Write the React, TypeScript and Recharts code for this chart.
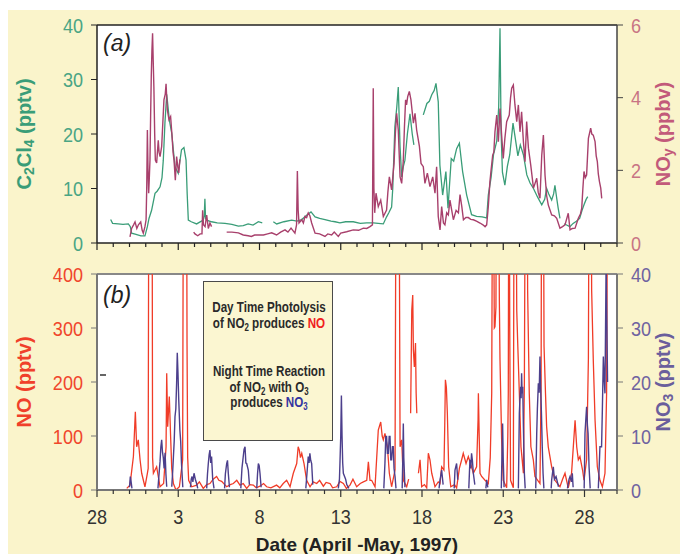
import { CartesianGrid, Line, LineChart, ReferenceLine, XAxis, YAxis } from "recharts";

const SANS = "'Liberation Sans', Arial, sans-serif";

// day offset from April 28, 1997 (0 = Apr 28, 5 = May 3, ...)
const dayTicks = Array.from({ length: 33 }, (_, i) => i);
const dayLabels = ["28", "3", "8", "13", "18", "23", "28"];

const c2cl4Ticks = [0, 10, 20, 30, 40];
const noyTicks = [0, 2, 4, 6];
const noTicks = [0, 100, 200, 300, 400];
const no3Ticks = [0, 10, 20, 30, 40];

type Pt = [number, number | null];

// panel (a): C2Cl4, pptv
const c2cl4: Pt[] = [
  [0.84, 4.3], [0.96, 3.6], [1.3, 3.5], [1.6, 3.4], [1.93, 3.5], [2.05, 3.0], [2.13, 1.8], [2.4, 1.6],
  [2.7, 1.3], [2.95, 1.3], [3.1, 3], [3.2, 4.5], [3.36, 6], [3.57, 9.1], [3.7, 9.5], [3.88, 10.3],
  [4.0, 12], [4.08, 15.2], [4.18, 22], [4.29, 27.3], [4.37, 25], [4.45, 22.6], [4.6, 20.1], [4.7, 17],
  [4.8, 14], [5.0, 12.8], [5.1, 15], [5.2, 17.1], [5.35, 17.5], [5.48, 15.2], [5.55, 9], [5.62, 4.2],
  [5.8, 3.9], [6.13, 3.5], [6.54, 4.2], [6.6, 5], [6.64, 8.1], [6.68, 4.5], [6.75, 4.2], [7.05, 3.9],
  [7.4, 3.7], [7.88, 3.6], [8.3, 3.4], [8.7, 3.1], [9.0, 3.2], [9.3, 3.5], [9.6, 3.3], [9.93, 3.9],
  [10.17, 3.7], [10.2, null], [10.85, 3.9], [11.06, 3.5], [11.5, 3.9], [11.98, 4.2], [12.3, 4.0],
  [12.6, 4.3], [12.9, 5.1], [13.17, 5.7], [13.42, 4.8], [13.7, 4.5], [14.03, 4.3], [14.4, 4.0],
  [14.65, 3.9], [14.95, 3.7], [15.3, 3.9], [15.77, 3.9], [16.2, 3.6], [16.6, 3.7], [17.0, 3.7],
  [17.3, 3.6], [17.62, 3.5], [17.82, 4.8], [17.95, 5.5], [18.13, 6.6], [18.2, 10], [18.33, 21.3],
  [18.45, 25], [18.54, 28.6], [18.65, 17.6], [18.75, 12.1], [18.85, 14], [18.95, 15.2], [19.1, 20],
  [19.26, 23.7], [19.4, 20], [19.5, 18], [19.6, null], [20.08, 23.5], [20.3, 25.6], [20.45, 26],
  [20.6, 27.2], [20.75, 28], [20.86, 29.3], [21.0, 25.9], [21.1, 14.3], [21.27, 8.8], [21.47, 13.1],
  [21.6, 6.4], [21.8, 15.5], [21.95, 15], [22.13, 17.3], [22.3, 18.3], [22.5, 13.1], [22.75, 8.8],
  [23.05, 5.2], [23.36, 4.9], [23.7, 4.8], [23.98, 4.6], [24.08, 8.8], [24.25, 12], [24.4, 16.2],
  [24.6, 18.7], [24.72, 25], [24.8, 39.4], [24.87, 20], [24.95, 13], [25.1, 10.6], [25.25, 14],
  [25.4, 16.2], [25.6, 22], [25.75, 19], [25.9, 16], [26.05, 18], [26.24, 16.2], [26.45, 12.5],
  [26.65, 11], [26.86, 10], [27.1, 8.5], [27.37, 7], [27.55, 8], [27.67, 10], [27.8, 9], [27.98, 7.9],
  [28.1, 9], [28.18, 10.6], [28.3, 8], [28.38, 6.4], [28.49, 4.5], [28.55, null], [28.75, 3.5],
  [28.9, 3.3], [29.1, 3], [29.3, 3.6], [29.5, 4], [29.7, 4.5], [29.85, 6], [29.97, 7], [30.1, 8],
  [30.2, 8.5],
];

// panel (a): NOy, ppbv
const noy: Pt[] = [
  [2.03, 0.17], [2.13, 0.4], [2.25, 0.5], [2.34, 0.58], [2.45, 0.4], [2.55, 0.5], [2.69, 0.58],
  [2.78, 0.35], [2.85, 0.27], [2.95, 0.45], [3.02, 0.64], [3.06, 1.5], [3.1, 3.11], [3.14, 2.0],
  [3.18, 1.37], [3.22, 1.8], [3.26, 2.28], [3.3, 3.5], [3.34, 4.58], [3.38, 5.3], [3.42, 5.77],
  [3.46, 5.0], [3.5, 4.3], [3.55, 3.0], [3.59, 2.28], [3.67, 2.2], [3.77, 2.83], [3.82, 2.5],
  [3.88, 2.38], [3.98, 2.66], [4.05, 3.3], [4.12, 3.94], [4.2, 4.1], [4.25, 4.38], [4.29, 4.0],
  [4.33, 3.66], [4.43, 3.39], [4.53, 3.48], [4.62, 2.93], [4.68, 2.5], [4.74, 2.28], [4.82, 1.73],
  [4.9, 2.38], [4.97, 2.1], [5.03, 1.93], [5.1, 2.3], [5.12, null], [5.95, 0.3], [6.03, 0.25],
  [6.2, 0.2], [6.35, 0.25], [6.46, 0.25], [6.5, 0.9], [6.55, 0.5], [6.65, 0.45], [6.75, 0.77],
  [6.85, 0.4], [6.95, 0.55], [7.05, 0.45], [7.1, null], [7.98, 0.3], [8.3, 0.3], [8.7, 0.28],
  [9.0, 0.22], [9.3, 0.2], [9.5, 0.18], [9.7, 0.22], [9.93, 0.22], [10.24, 0.22], [10.5, 0.25],
  [10.75, 0.28], [11.05, 0.22], [11.3, 0.3], [11.57, 0.36], [11.75, 0.3], [11.94, 0.41],
  [12.18, 0.27], [12.28, 0.5], [12.33, 1.98], [12.38, 0.9], [12.43, 0.55], [12.6, 0.64], [12.7, 0.55],
  [12.8, 0.73], [12.9, 0.7], [13.0, 0.83], [13.1, 0.75], [13.21, 0.55], [13.42, 0.27], [13.7, 0.25],
  [14.03, 0.18], [14.2, 0.25], [14.44, 0.22], [14.6, 0.3], [14.85, 0.18], [15.0, 0.27], [15.36, 0.31],
  [15.77, 0.36], [16.1, 0.35], [16.39, 0.41], [16.6, 0.4], [16.8, 0.45], [16.95, 0.5], [17.0, 4.26],
  [17.04, 1.5], [17.09, 0.83], [17.17, 1.37], [17.31, 1.0], [17.46, 1.18], [17.62, 0.73], [17.82, 0.91],
  [17.9, 1.4], [17.99, 1.82], [18.13, 1.46], [18.2, 1.8], [18.28, 2.19], [18.36, 3.0], [18.44, 3.57],
  [18.54, 3.11], [18.65, 1.82], [18.75, 1.64], [18.85, 2.28], [18.92, 3.2], [18.99, 3.94], [19.05, 3.8],
  [19.12, 4.03], [19.22, 4.17], [19.32, 3.94], [19.4, 3.6], [19.47, 3.3], [19.57, 3.57], [19.67, 3.11],
  [19.75, 2.9], [19.84, 2.66], [19.94, 2.19], [20.08, 2.1], [20.18, 1.64], [20.33, 1.92], [20.49, 1.55],
  [20.66, 1.82], [20.8, 1.37], [20.9, 2.1], [21.0, 0.73], [21.11, 0.36], [21.21, 1.0], [21.32, 0.55],
  [21.41, 0.5], [21.52, 0.83], [21.62, 0.77], [21.72, 1.18], [21.83, 0.9], [21.93, 0.64], [22.1, 0.9],
  [22.24, 0.83], [22.34, 1.33], [22.45, 1.0], [22.55, 0.64], [22.7, 0.7], [22.85, 0.7], [23.0, 0.65],
  [23.16, 0.64], [23.35, 0.6], [23.57, 0.55], [23.75, 0.5], [23.88, 0.45], [23.98, 0.5], [24.08, 1.0],
  [24.18, 1.69], [24.25, 2.0], [24.35, 2.42], [24.42, 2.5], [24.49, 3.06], [24.6, 3.52], [24.7, 2.79],
  [24.8, 3.7], [24.9, 2.97], [25.0, 2.33], [25.1, 2.88], [25.21, 3.34], [25.37, 3.52], [25.45, 4.0],
  [25.52, 4.26], [25.62, 4.35], [25.72, 3.8], [25.83, 3.34], [25.93, 3.8], [26.03, 3.06], [26.13, 3.61],
  [26.24, 2.79], [26.34, 2.24], [26.44, 3.34], [26.55, 2.61], [26.69, 2.15], [26.86, 1.51], [27.06, 1.78],
  [27.15, 1.4], [27.26, 1.23], [27.37, 2.42], [27.47, 2.97], [27.57, 1.87], [27.67, 1.3], [27.77, 1.05],
  [27.98, 0.77], [28.15, 0.75], [28.29, 0.68], [28.49, 0.41], [28.65, 0.45], [28.8, 0.5], [29.0, 0.82],
  [29.11, 0.36], [29.25, 0.4], [29.42, 0.41], [29.62, 0.68], [29.75, 0.8], [29.83, 0.96], [29.9, 1.5],
  [29.97, 1.97], [30.05, 1.8], [30.13, 1.87], [30.24, 2.88], [30.3, 3.0], [30.38, 3.16], [30.45, 3.0],
  [30.54, 2.97], [30.65, 2.79], [30.72, 2.4], [30.79, 2.24], [30.85, 1.9], [30.92, 1.69], [31.0, 1.51],
  [31.06, 1.23],
];

// panel (b): NO, pptv (values above 400 run off the top)
const no: Pt[] = [
  [1.83, 3], [2.03, 9], [2.24, 62], [2.36, 145], [2.44, 80], [2.54, 93], [2.65, 56], [2.75, 31],
  [2.95, 6], [3.1, 31], [3.15, 40], [3.2, 800], [3.38, 800], [3.42, 60], [3.47, 31], [3.67, 43],
  [3.88, 6], [4.1, 12], [4.25, 80], [4.29, 216], [4.35, 117], [4.45, 173], [4.53, 99], [4.6, 40],
  [4.7, 12], [4.86, 0], [5.07, 6], [5.27, 56], [5.33, 800], [5.5, 800], [5.54, 272], [5.58, 60],
  [5.64, 18], [5.83, 6], [6.13, 9], [6.3, 15], [6.54, 3], [6.75, 10], [6.95, 12], [7.15, 20],
  [7.36, 25], [7.5, 18], [7.67, 16], [7.98, 6], [8.2, 10], [8.39, 12], [8.6, 18], [8.8, 9], [9.0, 12],
  [9.21, 3], [9.4, 10], [9.62, 9], [9.8, 4], [10.03, 7], [10.25, 12], [10.44, 6], [10.7, 4], [11.05, 9],
  [11.25, 4], [11.46, 12], [11.67, 18], [11.88, 6], [12.08, 31], [12.29, 49], [12.38, 80], [12.45, 74],
  [12.52, 60], [12.6, 68], [12.74, 49], [12.9, 18], [13.11, 6], [13.3, 15], [13.52, 12], [13.7, 18],
  [13.93, 7], [14.1, 14], [14.34, 12], [14.5, 4], [14.75, 6], [14.95, 16], [15.16, 12], [15.35, 3],
  [15.57, 9], [15.75, 20], [15.98, 6], [16.2, 12], [16.39, 15], [16.6, 18], [16.7, 52], [16.8, 18],
  [16.9, 18], [17.11, 6], [17.31, 111], [17.46, 126], [17.55, 100], [17.62, 93], [17.72, 105],
  [17.87, 80], [17.99, 31], [18.13, 6], [18.34, 37], [18.42, 800], [18.57, 800], [18.65, 80],
  [18.75, 93], [18.85, 18], [19.06, 6], [19.18, 20], [19.22, null], [19.3, 142], [19.37, 333],
  [19.43, 361], [19.47, 259], [19.53, 228], [19.6, 272], [19.64, 179], [19.68, 142], [19.7, null],
  [19.78, 31], [19.88, 56], [19.98, 6], [20.15, 10], [20.29, 4], [20.39, 68], [20.49, 56], [20.6, 31],
  [20.8, 6], [21.0, 15], [21.11, 12], [21.21, 43], [21.35, 37], [21.4, 120], [21.44, 204], [21.5, 190],
  [21.56, 142], [21.64, 43], [21.77, 6], [22.0, 10], [22.13, 4], [22.3, 40], [22.44, 56], [22.54, 68],
  [22.71, 49], [22.85, 62], [23.05, 43], [23.16, 31], [23.36, 43], [23.45, 130], [23.47, 179],
  [23.52, 100], [23.57, 31], [23.67, 25], [23.88, 18], [24.08, 12], [24.2, 60], [24.29, 179],
  [24.36, 800], [24.45, 300], [24.49, 302], [24.55, 339], [24.6, 800], [24.68, 800], [24.76, 352],
  [24.8, 241], [24.9, 93], [25.0, 18], [25.21, 4], [25.28, 100], [25.31, 179], [25.35, 800],
  [25.4, 300], [25.45, 18], [25.62, 4], [25.68, 800], [25.75, 800], [25.83, 333], [25.89, 272],
  [25.99, 179], [26.09, 80], [26.24, 31], [26.3, 200], [26.38, 800], [26.46, 800], [26.5, 370],
  [26.6, 180], [26.7, 80], [26.85, 56], [26.95, 25], [27.26, 12], [27.33, 200], [27.37, 800],
  [27.45, 800], [27.51, 266], [27.6, 179], [27.67, 117], [27.77, 80], [27.98, 43], [28.18, 18],
  [28.49, 6], [28.65, 20], [28.8, 31], [29.0, 4], [29.2, 30], [29.42, 129], [29.52, 80], [29.62, 56],
  [29.72, 62], [29.88, 37], [29.97, 18], [30.13, 56], [30.24, 244], [30.3, 800], [30.38, 800],
  [30.44, 370], [30.54, 241], [30.65, 129], [30.79, 43], [30.95, 18], [31.1, 6], [31.26, 31],
  [31.36, 179], [31.45, 800], [31.55, 800],
];

// panel (b): NO3, pptv (night-time segments)
const no3: Pt[] = [
  [2.0, 0.5], [2.05, 2.5], [2.1, 1.5], [2.15, 0.3], [2.2, null],
  [3.75, 0.3], [3.82, 3], [3.88, 5.3], [3.93, 8], [3.98, 9.3], [4.03, 7], [4.08, 6], [4.13, 4],
  [4.19, 6.9], [4.24, 3], [4.29, 0.6], [4.35, null],
  [4.6, 0.6], [4.65, 3], [4.7, 6], [4.75, 9], [4.8, 13.6], [4.85, 15], [4.9, 19.8], [4.94, 25.4],
  [4.98, 22], [5.03, 16.7], [5.1, 11.1], [5.15, 9], [5.2, 4.9], [5.28, 0.5], [5.3, null],
  [5.75, 0.5], [5.8, 2], [5.85, 2.5], [5.9, 1.5], [5.97, 3.1], [6.05, 2], [6.13, 1.2], [6.2, 0.3], [6.25, null],
  [6.75, 0.3], [6.8, 3], [6.85, 4.9], [6.9, 6.5], [6.95, 7.4], [7.0, 5], [7.05, 6.2], [7.12, 2],
  [7.2, 0.3], [7.25, null],
  [7.85, 0.3], [7.9, 3], [7.98, 4.9], [8.03, 5.5], [8.08, 3.1], [8.15, 0.5], [8.2, null],
  [8.85, 0.3], [8.92, 4], [9.0, 6.2], [9.05, 7.5], [9.11, 8], [9.16, 5], [9.21, 4.9], [9.31, 3.7],
  [9.38, 1], [9.42, null],
  [9.83, 0.3], [9.88, 3], [9.93, 4.9], [9.98, 4.5], [10.03, 3.1], [10.1, 0.5], [10.15, null],
  [12.85, 0.3], [12.92, 3], [13.0, 6.2], [13.05, 5], [13.1, 6.8], [13.15, 5.5], [13.21, 4.9],
  [13.28, 1], [13.32, null],
  [14.85, 0.3], [14.92, 2], [14.95, 4.9], [15.0, 10], [15.04, 17.5], [15.08, 10], [15.12, 5],
  [15.16, 3.1], [15.3, 2], [15.37, 1], [15.5, 0.3], [15.55, null],
  [17.65, 0.3], [17.72, 5], [17.77, 9.9], [17.82, 9.9], [17.87, 6.8], [17.93, 6.8], [17.98, 9.9],
  [18.03, 9.9], [18.08, 5.6], [18.13, 5.6], [18.18, 8], [18.23, 8], [18.28, 4], [18.34, 2.5],
  [18.4, 0.3], [18.45, null],
  [18.78, 0.3], [18.82, 6], [18.85, 12.3], [18.88, 6], [18.95, 0.5], [19.0, null],
  [21.05, 0.3], [21.11, 1.85], [21.21, 3.7], [21.3, 1], [21.35, null],
  [21.98, 0.3], [22.03, 3.7], [22.13, 4.9], [22.2, 1.9], [22.25, null],
  [22.88, 0.3], [22.95, 5.6], [23.0, 4], [23.05, 6.8], [23.1, 5.5], [23.16, 3.1], [23.25, 1], [23.3, null],
  [23.93, 0.3], [23.98, 1.9], [24.05, 0.5], [24.1, null],
  [24.88, 0.3], [24.96, 12.3], [25.0, 5.6], [25.05, 0.5], [25.1, null],
  [25.93, 0.3], [25.99, 14.2], [26.03, 17], [26.07, 19.1], [26.1, 17], [26.13, 21.6], [26.16, 17.9],
  [26.2, 19.1], [26.24, 11.7], [26.3, 3.1], [26.35, 0.3], [26.4, null],
  [27.0, 0.3], [27.06, 10.5], [27.1, 15], [27.16, 19.75], [27.21, 18], [27.26, 24.7], [27.3, 19.1],
  [27.35, 14.2], [27.4, 8], [27.45, 3.1], [27.5, 0.3], [27.55, null],
  [27.95, 0.3], [27.98, 1.9], [28.08, 4.3], [28.15, 2], [28.25, 2.5], [28.4, 0.6], [28.45, null],
  [28.95, 0.3], [29.05, 2], [29.11, 2.5], [29.2, 1.5], [29.25, 3.1], [29.3, 0.5], [29.35, null],
  [29.98, 0.3], [30.03, 10.5], [30.08, 13], [30.13, 15.4], [30.18, 12], [30.22, 10.5], [30.28, 4.3],
  [30.35, 0.3], [30.4, null],
  [30.85, 0.3], [30.9, 4], [30.95, 8], [31.05, 8], [31.1, 15], [31.16, 24.7], [31.22, 20],
  [31.26, 17.9], [31.33, 42], [31.38, 30], [31.42, 20],
];

const rows = (pts: Pt[]) => pts.map(([d, v]) => ({ d, v }));

const GREEN = "#3a9d78";
const MAUVE = "#a8406c";
const RED = "#f03c28";
const BLUE = "#4c3f8c";

// narrow-looking numerals: regular sans squeezed horizontally
function NarrowText({ px, py, anchor, color, children }: any) {
  return (
    <text
      transform={`translate(${px},${py}) scale(0.86,1)`}
      textAnchor={anchor}
      fill={color}
      fontSize={21}
      fontFamily={SANS}
    >
      {children}
    </text>
  );
}

function dayTick(withLabels: boolean, color: string) {
  return (props: any) => {
    const { x, y, payload } = props;
    const d = payload.value as number;
    const major = d % 5 === 0;
    return (
      <g>
        <line x1={x} x2={x} y1={y} y2={y + (major ? 7 : 4)} stroke={color} strokeWidth={1.2} />
        {withLabels && major ? (
          <NarrowText px={x} py={y + 34} anchor="middle" color="#333">
            {dayLabels[d / 5]}
          </NarrowText>
        ) : null}
      </g>
    );
  };
}

function valueTick(color: string, anchor: string) {
  return (props: any) => {
    const { x, y, payload } = props;
    return (
      <NarrowText px={x} py={y + 7.5} anchor={anchor} color={color}>
        {payload.value}
      </NarrowText>
    );
  };
}

function vTitle(px: number, py: number, color: string, parts: Array<[string, boolean]>) {
  return () => {
    let shift = 0;
    return (
      <text
        x={px}
        y={py}
        transform={`rotate(-90 ${px} ${py})`}
        textAnchor="middle"
        dominantBaseline="central"
        fill={color}
        fontSize={20}
        fontWeight="bold"
        fontFamily={SANS}
      >
        {parts.map(([s, sub], i) => {
          const dy = sub ? 5 - shift : -shift;
          shift = sub ? 5 : 0;
          return (
            <tspan key={i} dy={dy} fontSize={sub ? 14 : 20}>
              {s}
            </tspan>
          );
        })}
      </text>
    );
  };
}

function TopChart() {
  return (
    <LineChart width={683} height={262} margin={{ top: 25, right: 0, bottom: 0, left: 0 }}>
      <CartesianGrid yAxisId="l" fill="#ffffff" horizontal={false} vertical={false} />
      <XAxis
        type="number"
        dataKey="d"
        domain={[0, 32]}
        ticks={dayTicks}
        allowDataOverflow
        height={19}
        tickSize={0}
        tickMargin={0}
        tickLine={false}
        interval={0}
        axisLine={{ stroke: "#222", strokeWidth: 1.5 }}
        tick={dayTick(false, "#222")}
      />
      <YAxis
        yAxisId="l"
        orientation="left"
        width={97}
        domain={[0, 40]}
        ticks={c2cl4Ticks}
        allowDataOverflow
        tickSize={6}
        tickMargin={8}
        axisLine={{ stroke: "#222", strokeWidth: 1.5 }}
        tickLine={{ stroke: "#222" }}
        tick={valueTick("#4aa584", "end")}
        label={vTitle(24, 134, GREEN, [["C", false], ["2", true], ["Cl", false], ["4", true], [" (pptv)", false]])}
      />
      <YAxis
        yAxisId="r"
        orientation="right"
        width={66}
        domain={[0, 6]}
        ticks={noyTicks}
        allowDataOverflow
        tickSize={6}
        tickMargin={8}
        axisLine={{ stroke: "#444", strokeWidth: 1.5 }}
        tickLine={{ stroke: "#444" }}
        tick={valueTick("#c87484", "start")}
        label={vTitle(663, 134, "#c25a7a", [["NO", false], ["y", true], [" (ppbv)", false]])}
      />
      <ReferenceLine yAxisId="l" y={40} stroke="#222" strokeWidth={1.5} />
      <Line
        yAxisId="l"
        data={rows(c2cl4)}
        dataKey="v"
        type="linear"
        stroke={GREEN}
        strokeWidth={1.3}
        dot={false}
        isAnimationActive={false}
      />
      <Line
        yAxisId="r"
        data={rows(noy)}
        dataKey="v"
        type="linear"
        stroke={MAUVE}
        strokeWidth={1.4}
        dot={false}
        isAnimationActive={false}
      />
    </LineChart>
  );
}

function BottomChart() {
  return (
    <LineChart width={683} height={304} margin={{ top: 24, right: 0, bottom: 0, left: 0 }}>
      <CartesianGrid yAxisId="l" fill="#ffffff" horizontal={false} vertical={false} />
      <XAxis
        type="number"
        dataKey="d"
        domain={[0, 32]}
        ticks={dayTicks}
        allowDataOverflow
        height={64}
        tickSize={0}
        tickMargin={0}
        tickLine={false}
        interval={0}
        axisLine={{ stroke: "#777", strokeWidth: 2 }}
        tick={dayTick(true, "#333")}
        label={() => (
          <text x={357} y={301} textAnchor="middle" fill="#222" fontSize={19} fontWeight="bold" fontFamily={SANS}>
            Date (April -May, 1997)
          </text>
        )}
      />
      <YAxis
        yAxisId="l"
        orientation="left"
        width={97}
        domain={[0, 400]}
        ticks={noTicks}
        allowDataOverflow
        tickSize={6}
        tickMargin={8}
        axisLine={{ stroke: "#777", strokeWidth: 2 }}
        tickLine={{ stroke: "#777" }}
        tick={valueTick("#f0462c", "end")}
        label={vTitle(24, 132, "#f0402a", [["NO (pptv)", false]])}
      />
      <YAxis
        yAxisId="r"
        orientation="right"
        width={66}
        domain={[0, 40]}
        ticks={no3Ticks}
        allowDataOverflow
        tickSize={6}
        tickMargin={8}
        axisLine={{ stroke: "#777", strokeWidth: 2 }}
        tickLine={{ stroke: "#777" }}
        tick={valueTick("#6f63a0", "start")}
        label={vTitle(663, 132, "#6a5e9c", [["NO", false], ["3", true], [" (pptv)", false]])}
      />
      <ReferenceLine yAxisId="l" y={400} stroke="#888" strokeWidth={2} />
      <Line
        yAxisId="l"
        data={rows(no)}
        dataKey="v"
        type="linear"
        stroke={RED}
        strokeWidth={1.3}
        dot={false}
        isAnimationActive={false}
      />
      <Line
        yAxisId="r"
        data={rows(no3)}
        dataKey="v"
        type="linear"
        stroke={BLUE}
        strokeWidth={1.4}
        dot={false}
        isAnimationActive={false}
      />
    </LineChart>
  );
}

const subStyle = { fontSize: 10.5, position: "relative", top: 3, verticalAlign: "baseline", lineHeight: 0 } as const;

export default function App() {
  return (
    <div style={{ position: "absolute", left: 0, top: 0, width: 683, height: 554, background: "#fff" }}>
      <div style={{ position: "absolute", left: 8, top: 10, width: 672, height: 544, background: "#faf4cb" }} />
      <div style={{ position: "absolute", left: 0, top: 0 }}>
        <TopChart />
      </div>
      <div style={{ position: "absolute", left: 0, top: 250 }}>
        <BottomChart />
      </div>
      <div style={{ position: "absolute", left: 103, top: 32, fontFamily: SANS, fontStyle: "italic", fontSize: 23, lineHeight: 1, color: "#222" }}>
        (a)
      </div>
      <div style={{ position: "absolute", left: 103, top: 284, fontFamily: SANS, fontStyle: "italic", fontSize: 23, lineHeight: 1, color: "#222" }}>
        (b)
      </div>
      <div style={{ position: "absolute", left: 100, top: 374, width: 6, height: 1.5, background: "#666" }} />
      <div
        style={{
          position: "absolute",
          left: 203,
          top: 281,
          width: 130,
          height: 160,
          boxSizing: "border-box",
          border: "1.5px solid #4a4a4a",
          background: "#fbf6d1",
          paddingTop: 17,
        }}
      >
        <div
          style={{
            width: 180,
            marginLeft: -25,
            transform: "scaleX(0.75)",
            transformOrigin: "center top",
            whiteSpace: "nowrap",
            textAlign: "center",
            fontFamily: SANS,
            fontWeight: "bold",
            fontSize: 15.5,
            lineHeight: "15.5px",
            color: "#2a2a2a",
          }}
        >
          <div>Day Time Photolysis</div>
          <div>
            of NO<sub style={subStyle}>2</sub> produces <span style={{ color: "#f02020" }}>NO</span>
          </div>
          <div style={{ height: 33 }} />
          <div>Night Time Reaction</div>
          <div>
            of NO<sub style={subStyle}>2</sub> with O<sub style={subStyle}>3</sub>
          </div>
          <div>
            produces <span style={{ color: "#3434a0" }}>NO<sub style={subStyle}>3</sub></span>
          </div>
        </div>
      </div>
    </div>
  );
}
